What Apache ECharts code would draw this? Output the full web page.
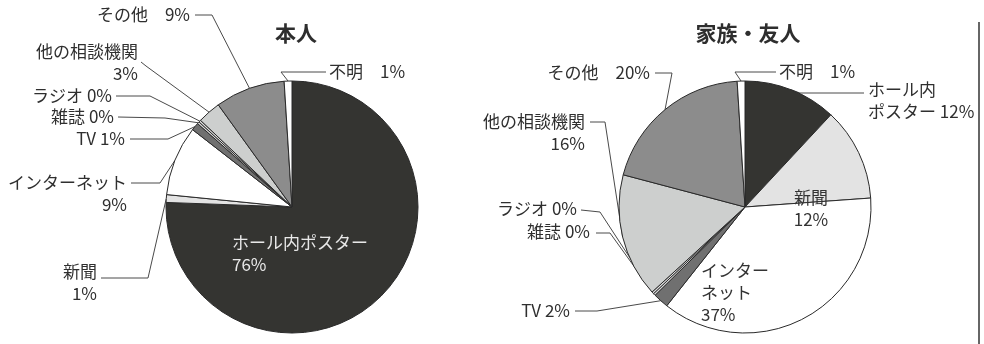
<!DOCTYPE html>
<html>
<head>
<meta charset="utf-8">
<script src="https://cdn.jsdelivr.net/npm/echarts@6/dist/echarts.min.js"></script>
<style>
  html, body { margin: 0; padding: 0; background: #ffffff; }
  #chart { width: 984px; height: 344px; }
</style>
</head>
<body>
<div id="chart"></div>
<script>
// Categories, clockwise from 12 o'clock
const categories = ['ホール内ポスター', '新聞', 'インターネット', 'TV', '雑誌', 'ラジオ', '他の相談機関', 'その他', '不明'];

// Percentages for each respondent group
const selfValues   = [76, 1, 9, 1, 0, 0, 3, 9, 1];
const familyValues = [12, 12, 37, 2, 0, 0, 16, 20, 1];

// Label text (name part) as printed for each group; value + '%' is appended
const selfLabelNames   = ['ホール内ポスター\n', '新聞\n', 'インターネット\n', 'TV ', '雑誌 ', 'ラジオ ', '他の相談機関\n', 'その他　', '不明　'];
const familyLabelNames = ['ホール内\nポスター ', '新聞\n', 'インター\nネット\n', 'TV ', '雑誌 ', 'ラジオ ', '他の相談機関\n', 'その他　', '不明　'];

const titles = ['本人', '家族・友人'];

// Grey fill per category
const sliceColors = ['#343431', '#e3e3e3', '#ffffff', '#707070', '#d6d6d6', '#dcdcdc', '#cdcfce', '#8c8c8c', '#ffffff'];

const FONT = '"Noto Sans CJK JP", "Noto Sans", sans-serif';

// Label placement: [x, y, align, lineEnd, lineBend] (null line = label sits inside its slice)
const selfLabelLayout = [
  [232, 254, 'left', null, null],
  [97, 283, 'right', [101, 278], [148, 278]],
  [127, 194, 'right', [131, 183], [160, 183]],
  [125, 139, 'right', [130, 139], [168, 139]],
  [114, 117, 'right', [118, 117], [165, 118]],
  [112, 96, 'right', [116, 96], [150, 96]],
  [138, 63, 'right', [141, 62], [146, 66]],
  [190, 15, 'right', [195, 15], [212, 15]],
  [329, 72, 'left', [326, 72], [281, 72]]
];
const familyLabelLayout = [
  [868, 101, 'left', [864, 93], [800, 93]],
  [811, 209, 'center', null, null],
  [701, 293, 'left', null, null],
  [570, 311, 'right', [575, 311], [597, 311]],
  [590, 232, 'right', [596, 233], [610, 233]],
  [577, 209, 'right', [581, 210], [600, 212]],
  [585, 133, 'right', [590, 122], [605, 122]],
  [650, 73, 'right', [655, 73], [672, 73]],
  [779, 72, 'left', [776, 72], [735, 72]]
];

function buildData(values, labelLayout, insideTextColor) {
  return categories.map((name, i) => {
    const inside = labelLayout[i][3] === null;
    return {
      name: name,
      value: values[i],
      itemStyle: { color: sliceColors[i] },
      label: inside ? { position: 'inside', color: insideTextColor } : { position: 'outside' },
      labelLine: { show: !inside }
    };
  });
}

function makeLayout(table) {
  return function (params) {
    const spec = table[params.dataIndex];
    const out = { x: spec[0], y: spec[1], align: spec[2], verticalAlign: 'middle' };
    if (spec[3] && params.labelLinePoints) {
      out.labelLinePoints = [params.labelLinePoints[0], spec[4], spec[3]];
    }
    return out;
  };
}

function makeSeries(values, labelNames, layoutTable, center, insideTextColor) {
  return {
    type: 'pie',
    center: center,
    radius: 126,
    startAngle: 90,
    clockwise: true,
    minAngle: 1,
    avoidLabelOverlap: false,
    silent: true,
    animation: false,
    itemStyle: { borderColor: '#2a2a2a', borderWidth: 1 },
    label: {
      show: true,
      fontFamily: FONT,
      fontSize: 17,
      lineHeight: 22,
      color: '#2f2f2f',
      formatter: p => labelNames[p.dataIndex] + p.value + '%'
    },
    labelLine: { show: true, lineStyle: { color: '#4a4a4a', width: 1 } },
    labelLayout: makeLayout(layoutTable),
    data: buildData(values, layoutTable, insideTextColor)
  };
}

const chart = echarts.init(document.getElementById('chart'), null, { renderer: 'canvas' });
chart.setOption({
  backgroundColor: '#ffffff',
  animation: false,
  title: [
    { text: titles[0], left: 291, top: 18, textAlign: 'center',
      textStyle: { fontFamily: FONT, fontSize: 21, fontWeight: 'bold', color: '#2e2e2e' } },
    { text: titles[1], left: 743, top: 18, textAlign: 'center',
      textStyle: { fontFamily: FONT, fontSize: 21, fontWeight: 'bold', color: '#2e2e2e' } }
  ],
  graphic: [
    { type: 'line', shape: { x1: 979, y1: 22, x2: 979, y2: 344 },
      style: { stroke: '#333333', lineWidth: 1.5 }, silent: true }
  ],
  series: [
    makeSeries(selfValues, selfLabelNames, selfLabelLayout, [292, 207], '#e8e8e8'),
    makeSeries(familyValues, familyLabelNames, familyLabelLayout, [745, 207], '#333333')
  ]
});
</script>
</body>
</html>
